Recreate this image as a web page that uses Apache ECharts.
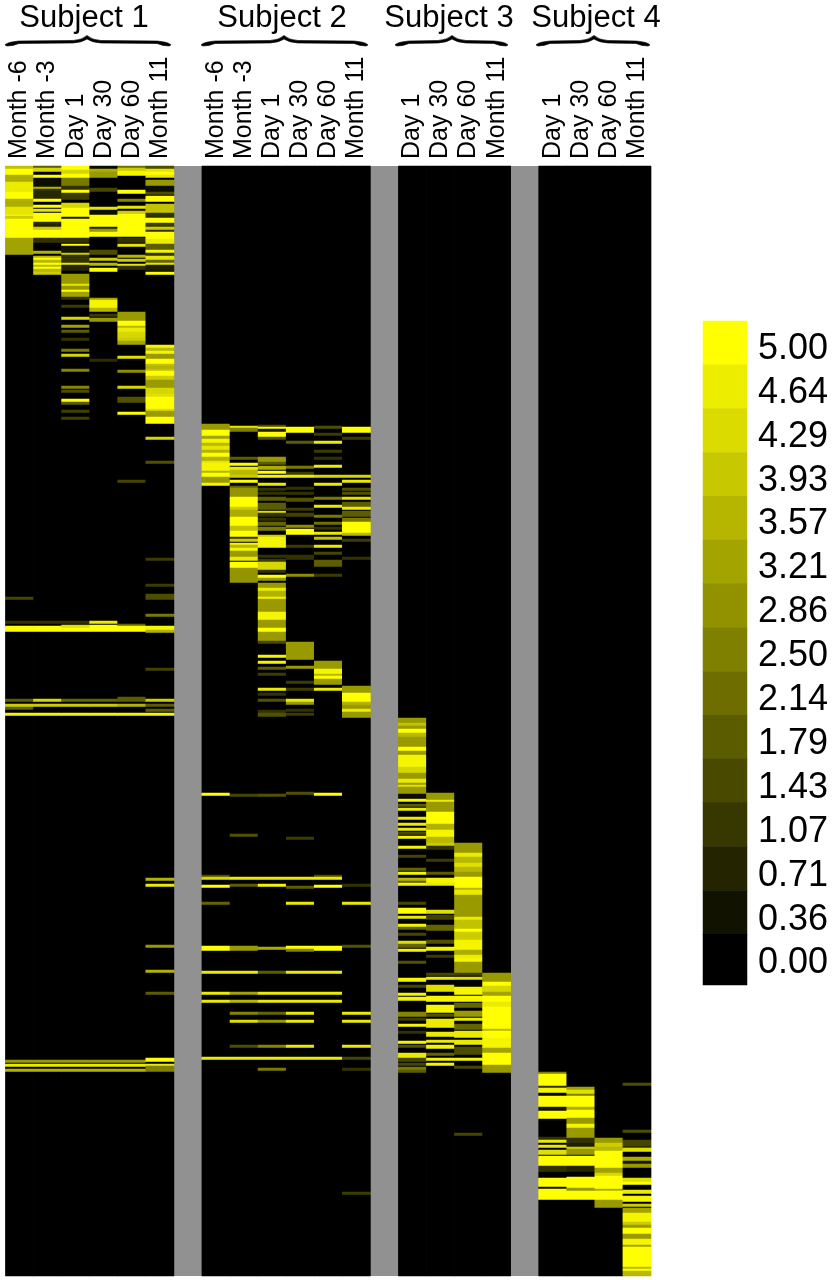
<!DOCTYPE html>
<html>
<head>
<meta charset="utf-8">
<style>
  html, body { margin: 0; background: #fff; }
  #chart { width: 836px; height: 1280px; }
</style>
<script src="https://cdn.jsdelivr.net/npm/echarts@6/dist/echarts.min.js"></script>
</head>
<body>
<div id="chart"></div>
<script>
const rowCount = 1110;
const subjects = ['Subject 1', 'Subject 2', 'Subject 3', 'Subject 4'];
const columnLabels = ['Month -6', 'Month -3', 'Day 1', 'Day 30', 'Day 60', 'Month 11', '',
  'Month -6', 'Month -3', 'Day 1', 'Day 30', 'Day 60', 'Month 11', '',
  'Day 1', 'Day 30', 'Day 60', 'Month 11', '',
  'Day 1', 'Day 30', 'Day 60', 'Month 11'];
const keyLabels = ['5.00', '4.64', '4.29', '3.93', '3.57', '3.21', '2.86', '2.50', '2.14', '1.79', '1.43', '1.07', '0.71', '0.36', '0.00'];

// each run is [first row, end row, value], everything else in a column is 0
const s1m6 = [[0,3,3.8],[3,9,5],[9,16,3.4],[16,26,4.6],[26,33,5],[33,41,3.4],[41,49,4.5],[49,72,5],[51,52,4],[72,89,3.2],
  [432,433,1.4],[456,457,1],[460,466,5],[533,535,1.8],[538,540,4],[542,543,1.8],[548,549,4.8],[894,896,3],[898,900,4.6],[904,905,3.5]];
const s1m3 = [[0,2,1.8],[2,6,4.2],[9,12,5],[12,21,0.3],[21,23,3.5],[23,25,1],[25,33,0.8],[33,35,5],[39,41,5],[43,45,4.5],[47,56,5],[56,58,1],[58,61,0.7],[61,63,4],[64,72,5],[72,77,1],[85,87,3.5],
  [90,92,3.6],[92,94,5],[94,97,3.6],[97,99,5],[99,101,3.6],[101,103,5],[103,106,3.6],[106,108,4],
  [456,457,1],[460,466,5],[533,535,4.2],[538,540,4],[548,549,4.8],[894,896,3],[898,900,4.6],[904,905,3.5]];
const s1d1 = [[0,4,5],[4,8,4.2],[8,12,5],[12,20,2.4],[20,24,1],[24,27,5],[27,34,1.2],[37,42,4.2],[42,51,5],[51,53,0.4],[53,72,5],[72,77,1],[78,80,5],[80,87,0.4],[87,89,4],[89,97,1],[97,99,4.5],[99,105,0.7],
  [108,118,3],[118,120,4.5],[120,124,3],[124,126,5],[126,131,3.2],[131,133,1],[140,141,1.2],[151,153,4.2],[159,161,3.2],[165,166,1.8],[172,174,1],[183,185,2.4],[188,191,4.2],[203,206,2.6],[220,223,2.6],[225,226,1.5],[233,235,5],[236,239,1.8],[245,246,1.3],[252,253,1.3],
  [456,457,1],[459,462,4.4],[462,466,5],[533,535,2],[538,540,4],[548,549,4.8],[894,896,3],[898,900,4.6],[904,905,3.5]];
const s1d30 = [[0,3,0.2],[3,6,3.4],[6,12,3],[22,26,1.4],[41,44,4.5],[44,49,0.3],[49,61,5],[61,63,0.6],[63,66,3],[66,71,5],[84,89,1.5],[92,94,4],[97,99,3.6],[102,106,5],
  [132,134,3.2],[134,142,4.8],[142,146,3.6],[148,150,1.2],[152,156,3],[194,195,0.9],
  [455,457,4.6],[459,466,5],[533,535,2],[538,540,4],[548,549,4.8],[894,896,3],[898,900,4.6],[904,905,3.5]];
const s1d60 = [[0,2,2.2],[2,5,4],[5,10,4.8],[24,28,5],[33,36,2.6],[40,43,4.5],[45,47,4],[48,71,5],[72,77,1],[78,81,4.5],[89,91,3.6],[93,95,4],[99,100,4.5],[100,104,1],
  [146,155,3],[155,160,5],[160,162,3.6],[162,166,4.6],[166,172,4.2],[172,175,4],[175,179,3.2],[190,193,4.4],[205,206,2.8],[221,222,4.2],[231,237,1.6],[246,249,5],[314,316,1.4],
  [459,460,2],[460,466,5],[531,536,1.8],[538,540,3.5],[548,549,4.8],[894,896,3],[898,900,4.6],[904,905,3.5]];
const s1m11 = [[0,3,1.5],[3,5,4.5],[6,8,5],[9,11,4.5],[14,20,3],[20,26,0.3],[26,29,1.5],[30,32,5],[33,35,5],[38,47,3.8],[47,52,1],[52,57,5],[57,61,1.2],[61,64,4],[64,66,1],[66,73,5],[73,78,4.6],[78,84,1.8],[84,87,4.8],[87,90,1],[90,94,4.5],[94,97,2],[97,99,4.5],[99,105,0.6],[106,108,5],
  [179,182,4.8],[182,185,3.6],[185,188,4.8],[188,193,3],[193,198,5],[198,200,3.8],[200,203,3.5],[203,205,3.8],[205,210,5],[210,214,4],[214,222,3],[222,228,4.2],[228,231,4.4],[231,243,5],[243,245,4.4],[245,251,3],[251,258,5],
  [271,273,4.2],[295,297,1.6],[393,394,1.2],[419,420,1.2],[428,430,1.5],[432,433,1.5],[448,450,2.4],[460,464,4.8],[464,466,3.5],[503,504,1.3],[533,535,4],[538,540,1.8],[544,545,1.8],[548,549,4.8],
  [712,714,3.5],[718,720,4.6],[780,781,3],[805,806,3.5],[827,828,1.8],[892,896,5],[898,900,4.6],[900,906,2.5]];

const s2m6 = [[258,264,3],[264,270,5],[270,273,3.2],[273,277,4.8],[277,280,3.6],[280,284,4.5],[284,287,3.5],[287,291,5],[291,295,3.5],[295,297,4.5],[297,306,4.8],[306,307,3.5],[307,311,5],[311,317,3],[317,320,4.8],
  [627,630,5],[709,711,1.5],[711,713,4.2],[719,722,5],[737,738,2],[780,785,5],[805,807,4.6],[827,828,4.6],[834,836,4.6],[892,893,4.6]];
const s2m3 = [[260,262,4.5],[262,266,2.5],[291,293,1.8],[297,299,5],[301,304,4.6],[304,309,3.6],[309,311,4],[314,316,5],[320,322,2],[322,331,2.9],[331,341,5],[341,344,4],[344,351,3.4],[351,360,5],[360,365,3.8],[365,371,5],[371,373,1],[373,376,4],[377,379,4.8],[379,382,3.6],[382,385,4.8],[385,391,3],[391,395,4.6],[396,402,5],[402,417,2.9],
  [628,630,1.4],[668,670,1.6],[711,713,4.6],[719,720,1.8],[780,785,3],[805,807,4.6],[827,828,3.2],[834,836,3.6],[847,848,2.6],[854,856,4.4],[879,881,1.5],[892,893,4.6]];
const s2d1 = [[259,261,1.5],[261,263,5],[263,266,0.5],[266,272,5],[272,273,1.5],[291,296,3],[296,299,1.8],[300,304,3.4],[306,307,5],[309,312,4.8],[317,320,4.6],[322,324,1],[326,329,1],[331,335,1.8],[337,344,1.8],[345,347,4.4],[347,351,1],[352,355,1],[356,360,2],[361,365,2.4],[369,371,4],[371,382,4.8],[389,392,1],[394,395,1.2],[396,404,4.2],[404,406,1],[409,411,5],[412,414,3],
  [417,422,3],[422,425,4.6],[425,431,3.5],[431,433,4.8],[433,446,3],[446,454,4.8],[454,462,3],[462,466,5],[466,475,3],[475,478,1.4],[489,491,4.8],[495,497,4.8],[501,503,1.8],[507,509,1.2],[522,524,4.6],[527,529,1],[533,535,1.6],[544,546,1],[547,551,1.6],
  [628,630,1.6],[711,713,4.6],[719,720,4.8],[781,783,3.4],[805,807,1.8],[827,828,4.6],[834,836,4.6],[847,848,2],[854,856,3],[879,881,2.6],[892,893,4.6],[903,904,2.4]];
const s2d30 = [[261,267,5],[275,277,1.8],[300,303,2.4],[306,308,1.2],[309,312,4.6],[322,323,1],[327,328,1],[332,336,1.6],[342,344,1.2],[347,351,1.3],[360,361,2.8],[363,369,5],[379,381,1.2],[389,391,1],[392,393,1],[408,411,2.8],
  [476,494,3],[500,502,3],[515,517,1.2],[522,524,1.2],[533,535,4.6],[536,538,3],[544,545,1],[547,549,1.2],[627,628,1.6],[672,673,1.2],[711,713,4.6],[720,722,1.8],[737,738,4.6],[780,783,5],[783,785,2.5],[805,807,4.6],[827,828,4.6],[834,836,4.6],[847,848,4.6],[854,856,4.6],[879,881,4.6],[892,893,4.6]];
const s2d60 = [[260,262,1.5],[267,269,1.2],[275,277,4.6],[284,286,1.2],[291,293,1],[299,302,4.6],[309,311,4.2],[317,320,4.6],[331,334,2.4],[339,341,4.6],[349,351,2.4],[356,358,2.2],[361,363,1],[366,369,4.6],[371,374,3.8],[379,381,4.6],[387,388,1.4],[394,401,1.8],[408,410,1.2],
  [495,503,3],[503,508,4.8],[508,510,3.6],[510,513,5],[513,519,3],[522,524,4.6],[627,630,5],[709,711,1.5],[711,713,4.6],[719,722,5],[780,785,5],[805,807,4.6],[827,828,4.6],[834,836,4.6],[892,893,4.6]];
const s2m11 = [[261,267,5],[271,273,1.2],[309,312,4.2],[314,316,4.6],[322,324,1.6],[326,329,1.6],[331,334,4.4],[336,341,1.8],[341,344,4.6],[345,351,1.8],[352,356,2.4],[356,367,5],[367,370,3.6],[373,376,1.2],[392,393,1],
  [520,527,3],[527,536,5],[536,539,3.5],[539,543,3],[543,546,4.6],[546,552,3],[719,720,1],[737,738,4.6],[780,781,1.6],[847,848,4.6],[854,856,4.6],[879,881,4.6],[892,893,1.4],[903,904,1],[1027,1028,1.2]];

const s3d1 = [[552,557,3],[557,560,3.8],[560,563,3],[563,567,5],[567,571,3.6],[571,581,3],[581,585,5],[585,589,3],[589,601,4.8],[601,607,4.2],[607,613,3],[613,617,4.6],[617,619,3],[619,621,4.4],[621,628,3],[628,632,0.3],[633,636,4.8],[638,640,1.8],[642,644,4.6],[651,654,4.6],[657,660,4.6],[662,664,4.6],[666,668,1.4],[670,673,4.8],[680,682,4.8],[690,691,1.4],[702,704,2],[706,708,4.8],[712,716,3.6],[716,717,1.8],[717,719,4.8],
  [737,738,1.4],[742,748,5],[750,752,4.6],[758,760,4.8],[761,764,1.8],[767,769,1.4],[775,777,4.4],[778,782,2],[783,785,4.8],[795,798,1.6],[812,816,4.8],[820,821,1.4],[827,829,4.8],[831,835,4.8],[846,851,2.6],[852,855,1.2],[858,860,4.8],[866,867,1],[876,877,4.8],[879,881,1.6],[887,889,4.6],[890,892,4.6],[892,896,1.4],[897,899,1.4],[901,903,2.4],[904,906,1.8]];
const s3d30 = [[627,634,3],[634,636,4.6],[636,646,3],[646,658,5],[658,664,3.5],[664,671,4.8],[671,677,3.6],[677,680,4],[680,684,1],[693,695,1.2],[706,708,1.8],[712,717,4.8],[717,719,4.6],
  [744,748,4.4],[749,754,1.3],[759,765,2],[774,778,1.6],[781,785,4.8],[789,791,1.2],[807,809,1.4],[811,814,4.6],[819,826,4.4],[830,836,4.8],[839,847,4.8],[848,851,1.6],[853,862,4.6],[866,871,4.6],[874,876,4.6],[879,883,4.8],[887,889,2],[892,895,4.8],[897,899,4.8]];
const s3d60 = [[677,687,3],[687,691,4.6],[691,697,3.6],[697,701,4.4],[701,706,3.6],[706,711,3],[711,722,5],[722,724,3.6],[724,729,4.6],[729,751,3],[751,754,4.6],[754,763,3.8],[763,766,5],[766,774,4],[774,784,4.8],[784,789,3.4],[789,792,4.6],[792,796,4.8],[796,807,3],[807,810,1.2],[811,814,4.4],[821,829,4.8],[830,836,4.8],[837,842,2],[845,851,3],[852,854,4.6],[858,864,2],[865,872,4.6],[874,879,4.6],[881,889,1.5],[892,894,4.8],[900,902,1.4],[968,969,1.4]];
const s3m11 = [[807,816,3],[816,820,5],[820,826,4.2],[826,830,3.2],[830,836,5],[836,841,4.6],[841,863,5],[863,865,3.6],[865,872,5],[872,882,4.8],[882,887,3.2],[887,899,5],[899,907,3]];

const s4d1 = [[906,908,2.5],[908,920,5],[920,922,1],[922,927,4.8],[930,941,5],[941,945,0.4],[945,953,5],[971,973,1],[974,977,4.6],[979,982,4.6],[984,989,4.4],[990,1000,5],[1000,1006,1],[1012,1022,5],[1022,1023,0.3],[1023,1034,5]];
const s4d30 = [[921,924,3.2],[924,928,4.4],[928,930,2.5],[930,941,5],[941,944,3.4],[944,952,5],[952,958,3],[958,962,4.8],[962,972,3],[972,977,1],[977,981,0.6],[981,983,4],[983,989,3],[990,1000,5],[1000,1006,0.7],[1011,1022,5],[1022,1025,3],[1025,1034,5]];
const s4d60 = [[972,977,3],[977,981,4],[981,985,3.6],[985,1002,5],[1002,1007,3.2],[1007,1010,4.2],[1010,1023,5],[1023,1025,3.4],[1025,1034,5],[1034,1042,3]];
const s4m11 = [[917,919,1.5],[964,966,1.5],[974,981,1.4],[981,982,1],[982,986,4.4],[991,995,3.4],[995,998,0.5],[998,1002,3],[1012,1016,4.4],[1016,1018,5],[1024,1028,4.6],[1030,1032,4.8],[1033,1036,4.8],[1038,1041,4],[1042,1047,3.2],[1047,1056,4.8],[1056,1059,4],[1059,1062,3],[1062,1068,5],[1068,1073,3],[1073,1079,4.8],[1079,1081,3.2],[1081,1101,5],[1101,1103,3.6],[1103,1105,5],[1105,1110,3.6]];

const columns = [s1m6, s1m3, s1d1, s1d30, s1d60, s1m11, null,
  s2m6, s2m3, s2d1, s2d30, s2d60, s2m11, null,
  s3d1, s3d30, s3d60, s3m11, null,
  s4d1, s4d30, s4d60, s4m11];

// gap columns get no cells, the grey grid background shows through
const cells = [];
columns.forEach((runs, col) => {
    if (!runs) return;
    const values = new Array(rowCount).fill(0);
    runs.forEach(([from, to, v]) => {
        // a thin line in the picture is never under 3 rows tall
        const start = to - from < 3 ? from - (to - from === 1 ? 1 : 0) : from;
        const end = Math.max(to, start + 3);
        for (let r = start; r < end && r < rowCount; r++) values[r] = v;
    });
    values.forEach((v, r) => cells.push([col, r, v]));
});
const rowNames = Array.from({ length: rowCount }, (_, i) => i);

// curly brace over a subject, drawn as a filled outline
function bracePath(x0, x1, ax) {
    return `M${x0} 45 Q${x0 + 2} 42 ${x0 + 14} 41 L${ax - 14} 40.5 Q${ax - 5} 40 ${ax} 35.5 Q${ax + 5} 40 ${ax + 14} 40.5 L${x1 - 14} 41 Q${x1 - 2} 42 ${x1} 45 ` +
        `L${x1 - 2} 46 Q${x1 - 8} 46 ${x1 - 14} 43.5 L${ax + 14} 43 Q${ax + 5} 42.5 ${ax} 39 Q${ax - 5} 42.5 ${ax - 14} 43 L${x0 + 14} 43.5 Q${x0 + 8} 46 ${x0 + 2} 46 Z`;
}
const titleX = [84, 282, 449, 596];
const braces = [[5, 171, 87], [201, 368, 284], [395, 508, 452], [536, 650, 594]];

const chart = echarts.init(document.getElementById('chart'));
chart.setOption({
    animation: false,
    backgroundColor: '#fff',
    textStyle: { fontFamily: '"Liberation Sans", Arial, sans-serif' },
    grid: [
        { left: 5.5, top: 166, width: 645.5, height: rowCount, show: true, backgroundColor: '#919191', borderWidth: 0 },
        { left: 703, top: 321, width: 44, height: 657, borderWidth: 0 },
        { left: 703, top: 978, width: 44, height: 7, borderWidth: 0 },
        // key labels sit a little lower than the key blocks and are spaced a bit wider
        { left: 703, top: 327, width: 44, height: 658.5, borderWidth: 0 }
    ],
    xAxis: [
        {
            type: 'category', gridIndex: 0, position: 'top', data: columnLabels,
            axisLine: { show: false }, axisTick: { show: false }, splitLine: { show: false },
            axisLabel: { interval: 0, rotate: -90, fontSize: 25, color: '#000', margin: 7 }
        },
        { type: 'category', gridIndex: 1, data: ['key'], show: false },
        { type: 'category', gridIndex: 2, data: ['key'], show: false },
        { type: 'category', gridIndex: 3, data: ['key'], show: false }
    ],
    yAxis: [
        { type: 'category', gridIndex: 0, inverse: true, data: rowNames, show: false },
        { type: 'category', gridIndex: 1, inverse: true, data: keyLabels, show: false },
        { type: 'category', gridIndex: 2, data: ['below'], show: false },
        {
            type: 'category', gridIndex: 3, inverse: true, position: 'right', data: keyLabels,
            axisLine: { show: false }, axisTick: { show: false }, splitLine: { show: false },
            axisLabel: { interval: 0, fontSize: 36, color: '#000', margin: 11 }
        }
    ],
    visualMap: {
        show: false, type: 'continuous', min: 0, max: 5, calculable: false,
        inRange: { color: ['#000000', '#ffff00'] },
        outOfRange: { color: '#00101a' }
    },
    series: [
        { type: 'heatmap', xAxisIndex: 0, yAxisIndex: 0, data: cells, progressive: 0, silent: true, emphasis: { disabled: true } },
        { type: 'heatmap', xAxisIndex: 1, yAxisIndex: 1, data: keyLabels.map((v, i) => [0, i, Number(v)]), progressive: 0, silent: true, emphasis: { disabled: true } },
        { type: 'heatmap', xAxisIndex: 2, yAxisIndex: 2, data: [[0, 0, -1]], progressive: 0, silent: true, emphasis: { disabled: true } },
        {
            type: 'custom', coordinateSystem: 'none', silent: true, data: braces,
            renderItem: (params, api) => {
                const x0 = api.value(0), x1 = api.value(1);
                return {
                    type: 'path',
                    shape: { pathData: bracePath(x0, x1, api.value(2)), layout: 'cover', x: x0, y: 35.5, width: x1 - x0, height: 10.5 },
                    style: { fill: '#000', stroke: '#000', lineWidth: 0.6 }
                };
            }
        }
    ],
    graphic: subjects.map((name, i) => ({
        type: 'text', x: titleX[i], y: 18,
        style: { text: name, font: '31px "Liberation Sans", Arial, sans-serif', fill: '#000', textAlign: 'center', textVerticalAlign: 'middle' }
    }))
});
</script>
</body>
</html>
